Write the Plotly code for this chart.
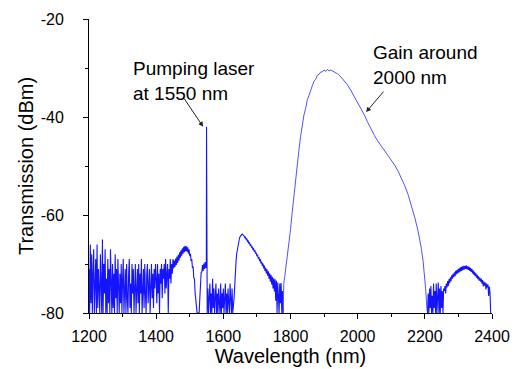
import numpy as np
import plotly.graph_objects as go

# ---------------- data ----------------
# noisy floor 1200-1450 nm, sampled every 2 nm
noise1_start, noise1_step = 1200, 2
noise1_db = [
    -71, -80, -66, -78, -68, -80, -72, -67, -80, -74,
    -69, -80, -66, -79, -71, -75, -80, -68, -77, -80,
    -65, -80, -70, -76, -67, -80, -73, -80, -69, -78,
    -71, -80, -67, -76, -80, -70, -79, -72, -80, -68,
    -77, -71, -80, -69, -75, -80, -72, -78, -70, -80,
    -73, -69, -80, -76, -71, -80, -70, -77, -80, -72,
    -69, -79, -74, -80, -70, -76, -71, -80, -73, -70,
    -80, -75, -71, -78, -70, -80, -72, -76, -69, -80,
    -74, -71, -79, -70, -76, -80, -72, -70, -78, -73,
    -71, -80, -74, -70, -77, -72, -79, -71, -75, -70,
    -73, -78, -70, -76, -72, -80, -71, -74, -70, -77,
    -71, -73, -70, -76, -69, -75, -72, -70, -80, -71,
    -73, -69, -74, -70, -72, -69,
]
# hump near 1490 nm and dip at 1525 nm, every 2 nm
hump1_start, hump1_step = 1452, 2
hump1_db = [
    -70.9, -69.3, -70.6, -68.9, -70.2,
    -68.5, -69.8, -68.1, -69.3, -67.6,
    -68.7, -67.2, -68.3, -66.8, -67.9,
    -66.5, -67.6, -66.3, -67.4, -66.4,
    -67.5, -66.6, -67.9, -67.0, -68.4,
    -67.9, -69.4, -69.0, -70.8, -70.5,
    -72.8, -73.0, -75.9, -77.5, -80,
    -80, -80, -80, -80, -77,
    -73.8, -71.7, -71.6, -70.2, -71.4,
    -69.9, -71.0, -69.6, -70.8,
]
# pump laser line
pump_nm = [1549.4, 1550.0, 1550.6]
pump_db = [-70, -42, -78]
# noisy floor 1552-1628 nm
noise2_start, noise2_step = 1552, 2
noise2_db = [
    -80, -75, -80, -77, -74, -80, -76, -80, -73, -79,
    -75, -80, -77, -74, -80, -76, -80, -75, -78, -80,
    -74, -80, -76, -79, -75, -80, -77, -74, -80, -76,
    -80, -75, -78, -80, -74, -77, -80, -75, -80,
]
# hump near 1660 nm
hump2_start, hump2_step = 1632, 2
hump2_db = [
    -77, -73.5, -71, -69.2, -67.8,
    -66.8, -65.9, -65.3, -64.8, -64.4,
    -64.2, -64.0, -63.9, -64.0, -64.1,
    -64.3, -64.6, -64.5, -65.0, -64.9,
    -65.4, -65.3, -65.8, -65.7, -66.2,
    -66.1, -66.6, -66.5, -67.0, -66.9,
    -67.5, -67.2, -67.9, -67.7, -68.4,
    -68.1, -68.9, -68.6, -69.4, -69.0,
    -69.9, -69.5, -70.4, -69.9, -70.9,
    -70.3, -71.4, -70.8, -71.9, -71.1,
    -72.4, -71.5, -73.0, -71.9, -73.6,
    -72.2, -74.2, -72.6, -75.0, -72.9,
    -75.6, -73.1, -77.5, -73.4, -80,
    -73.8, -76.5, -80, -74.0, -78,
    -73.9, -80, -75.5, -80,
]
# gain band around 2000 nm
gain_nm = [
    1778, 1780, 1783, 1786, 1790, 1795, 1800, 1805, 1810, 1815, 1820, 1825, 1830,
    1835, 1840, 1845, 1850, 1855, 1860, 1865, 1870, 1875, 1880, 1885, 1890,
    1895, 1900, 1905, 1910, 1915, 1920, 1925, 1930, 1940, 1950, 1960, 1970,
    1980, 1990, 2000, 2010, 2020, 2030, 2040, 2050, 2060, 2070, 2080, 2090,
    2100, 2110, 2120, 2130, 2140, 2150, 2160, 2170, 2180, 2185, 2190, 2195,
    2200, 2203, 2206, 2208,
]
gain_db = [
    -80, -74, -72.5, -71, -68.8, -66, -63, -59.5, -56, -52.8, -49.5, -46.8, -44,
    -41.6, -39.6, -38.3, -36.5, -35.6, -34.3, -33.6, -32.7, -32.3, -31.5, -31.3, -30.8,
    -30.8, -30.4, -30.7, -30.3, -30.6, -30.4, -30.6, -30.8, -31.2, -31.8, -32.6, -33.5,
    -34.6, -35.8, -37, -38.3, -39.6, -41.1, -42.5, -43.8, -44.9, -45.9, -46.8, -47.7,
    -48.7, -49.8, -51.0, -52.4, -54.0, -55.8, -58.0, -60.5, -63.3, -65.0, -67, -69.5,
    -72.5, -75.5, -79, -80,
]
# noisy floor 2208-2256 nm
noise3_start, noise3_step = 2208, 2
noise3_db = [
    -80, -76, -80, -75, -79,
    -74.5, -80, -76.5, -80, -74,
    -79, -75.5, -80, -74, -80,
    -76, -73.8, -80, -75, -80,
    -74.5, -79, -75.5, -80, -75,
]
# hump near 2325 nm
hump3_start, hump3_step = 2258, 2
hump3_db = [
    -75.5, -74.5, -76, -74, -74.8,
    -73.5, -74.5, -73.1, -73.9, -72.7,
    -73.5, -72.3, -73.0, -72.0, -72.7,
    -71.7, -72.5, -71.4, -72.1, -71.2,
    -71.9, -71.0, -71.7, -70.8, -71.5,
    -70.6, -71.4, -70.5, -71.2, -70.4,
    -71.1, -70.4, -71.0, -70.3, -71.1,
    -70.5, -71.2, -70.6, -71.4, -70.8,
    -71.6, -71.0, -71.9, -71.3, -72.2,
    -71.6, -72.5, -71.9, -72.8, -72.2,
    -73.1, -72.5, -73.4, -72.8, -73.6,
    -73.0, -74.0, -73.3, -74.6, -73.6,
    -74.4, -73.8, -75.2, -74.0, -74.8,
    -74.2, -76.5, -74.6, -75.8, -80,
    -80,
]

x_ticks = [1200, 1400, 1600, 1800, 2000, 2200, 2400]
x_tick_labels = ["1200", "1400", "1600", "1800", "2000", "2200", "2400"]
y_ticks = [-80, -60, -40, -20]
y_tick_labels = ["-80", "-60", "-40", "-20"]


def grid(start, step, vals):
    return list(start + step * np.arange(len(vals)))


left_nm = (grid(noise1_start, noise1_step, noise1_db)
           + grid(hump1_start, hump1_step, hump1_db)
           + pump_nm
           + grid(noise2_start, noise2_step, noise2_db)
           + grid(hump2_start, hump2_step, hump2_db))
left_db = noise1_db + hump1_db + pump_db + noise2_db + hump2_db
right_nm = (grid(noise3_start, noise3_step, noise3_db)
            + grid(hump3_start, hump3_step, hump3_db))
right_db = noise3_db + hump3_db

fig = go.Figure()
noisy_line = dict(color="rgb(20,20,255)", width=1.1)
fig.add_trace(go.Scatter(x=left_nm, y=left_db, mode="lines", line=noisy_line,
                         showlegend=False, hoverinfo="skip"))
fig.add_trace(go.Scatter(x=gain_nm, y=gain_db, mode="lines",
                         line=dict(color="rgb(60,60,255)", width=0.9),
                         showlegend=False, hoverinfo="skip"))
fig.add_trace(go.Scatter(x=right_nm, y=right_db, mode="lines", line=noisy_line,
                         showlegend=False, hoverinfo="skip"))

FONT = "Arial, 'Liberation Sans', sans-serif"

axis_common = dict(showline=True, linecolor="black", linewidth=1,
                   ticks="outside", ticklen=5, tickwidth=1, tickcolor="black",
                   showgrid=False, zeroline=False, mirror=False,
                   tickfont=dict(family=FONT, size=16, color="black"))

fig.update_xaxes(range=[1200, 2400], tickvals=x_ticks, ticktext=x_tick_labels,
                 ticklabelstandoff=4,
                 title=dict(text="Wavelength (nm)",
                            font=dict(family=FONT, size=20, color="black"),
                            standoff=2),
                 minor=dict(ticks="outside", ticklen=3, tickwidth=1,
                            tickcolor="black", dtick=100, tick0=1200,
                            showgrid=False),
                 **axis_common)
fig.update_yaxes(range=[-80, -20], tickvals=y_ticks, ticktext=y_tick_labels,
                 ticklabelstandoff=16,
                 title=dict(text="Transmission (dBm)",
                            font=dict(family=FONT, size=20, color="black"),
                            standoff=1),
                 minor=dict(ticks="outside", ticklen=3, tickwidth=1,
                            tickcolor="black", dtick=10, tick0=-80,
                            showgrid=False),
                 **axis_common)

ann_font = dict(family=FONT, size=19, color="black")
fig.add_annotation(x=1326, y=-27.6, xref="x", yref="y",
                   text="Pumping laser<br>at 1550 nm", showarrow=False,
                   xanchor="left", yanchor="top", align="left", font=ann_font)
fig.add_annotation(x=2041, y=-24.3, xref="x", yref="y",
                   text="Gain around<br>2000 nm", showarrow=False,
                   xanchor="left", yanchor="top", align="left", font=ann_font)
fig.add_annotation(x=1540, y=-42, ax=1480, ay=-35.9, xref="x", yref="y",
                   axref="x", ayref="y", text="", showarrow=True,
                   arrowhead=2, arrowsize=1, arrowwidth=1, arrowcolor="#222")
fig.add_annotation(x=2025, y=-39, ax=2081, ay=-34.5, xref="x", yref="y",
                   axref="x", ayref="y", text="", showarrow=True,
                   arrowhead=2, arrowsize=1, arrowwidth=1, arrowcolor="#222")

# the page body has an 8 px margin, so the figure is 8 px smaller each way
fig.update_layout(width=510, height=361,
                  margin=dict(l=81, r=26, t=11, b=56, autoexpand=False),
                  paper_bgcolor="white", plot_bgcolor="white",
                  font=dict(family=FONT, color="black"))

fig.write_html("out.html")
